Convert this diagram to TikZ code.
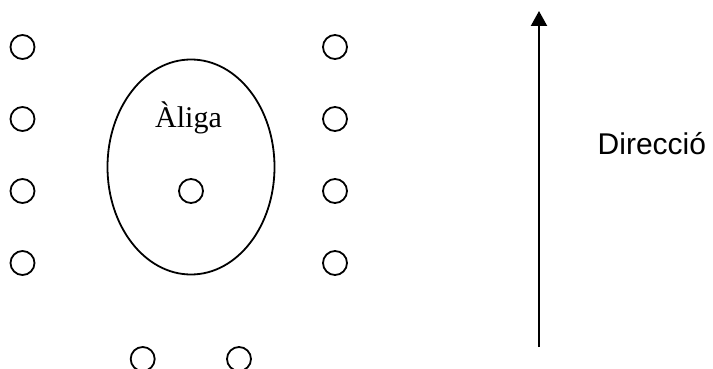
\documentclass[tikz,border=0pt]{standalone}
\usepackage{fontspec}
\setmainfont{Liberation Serif}
\newfontfamily\arialfont{Liberation Sans}
\usetikzlibrary{arrows.meta,shapes.geometric}

\begin{document}
\begin{tikzpicture}[x=1pt,y=-1pt,
    dot/.style={circle,draw,line width=1.8pt,minimum size=24pt,inner sep=0pt}]
        \useasboundingbox (0,0) rectangle (713,369);

        % Eagle area
        \node[ellipse,draw,line width=1.8pt,minimum width=167pt,minimum height=215pt,inner sep=0pt] (aliga) at (191,167) {};
        \node[anchor=base,inner sep=0pt,font=\fontsize{30}{36}\selectfont] (nom) at (188.5,127.7) {Àliga};
        \node[dot] (centre) at (191,191) {};

        % Side columns
        \foreach \j [count=\k] in {47,119,191,263} {
          \node[dot] (l\k) at (22.5,\j) {};
          \node[dot] (r\k) at (335,\j) {};
        }

        % Bottom pair
        \node[dot] (b1) at (142.7,359) {};
        \node[dot] (b2) at (239,359) {};

        % Direction arrow
        \coordinate (cua) at (539,347);
        \coordinate (punta) at (539,11);
        \draw[line width=2.2pt,-{Triangle[length=15pt,width=16pt]}] (cua) -- (punta);
        \node[anchor=base west,inner sep=0pt,font=\arialfont\fontsize{30}{36}\selectfont] (dir) at (597.5,154) {Direcció};
      \end{tikzpicture}
\end{document}
